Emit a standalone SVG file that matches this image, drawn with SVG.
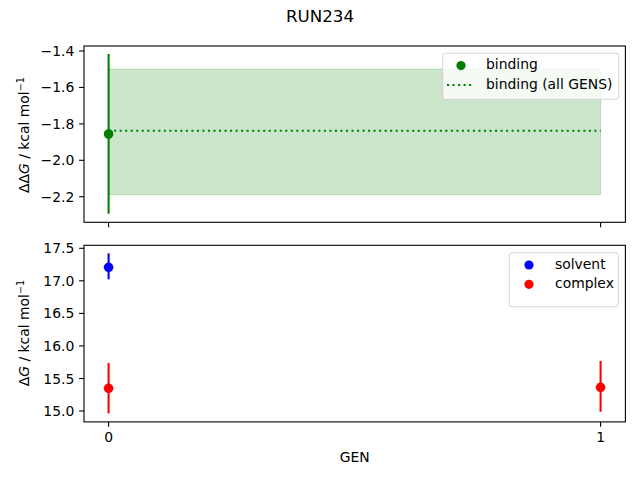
<svg xmlns="http://www.w3.org/2000/svg" width="640" height="480" viewBox="0 0 640 480">
<style>
text{font-family:"DejaVu Sans","Liberation Sans",sans-serif;font-size:13.9px;fill:#000}
.tl{text-anchor:end}
.tc{text-anchor:middle}
.spine{fill:none;stroke:#000;stroke-width:1.1}
.tick{stroke:#000;stroke-width:1.1}
.err{stroke-width:2.08}
.leg{fill:#fff;fill-opacity:0.8;stroke:#ccc;stroke-opacity:0.8;stroke-width:1}
</style>
<rect width="640" height="480" fill="#fff"/>
<text x="320" y="21.7" class="tc" style="font-size:16.7px">RUN234</text>

<g id="top-axes">
<rect x="108.6" y="69" width="492" height="125.7" fill="#008000" fill-opacity="0.2" stroke="#008000" stroke-opacity="0.2" stroke-width="1"/>
<line x1="108.6" y1="130.7" x2="600.6" y2="130.7" stroke="#008000" stroke-width="2.08" stroke-dasharray="2.08 3.44"/>
<line x1="108.6" y1="54" x2="108.6" y2="213.7" stroke="#008000" class="err"/>
<circle cx="108.6" cy="134" r="4.8" fill="#008000"/>
<rect x="84" y="46" width="541.4" height="176.3" class="spine"/>
<g class="tick">
<line x1="79.1" y1="51" x2="84" y2="51"/>
<line x1="79.1" y1="87.4" x2="84" y2="87.4"/>
<line x1="79.1" y1="123.9" x2="84" y2="123.9"/>
<line x1="79.1" y1="160.3" x2="84" y2="160.3"/>
<line x1="79.1" y1="196.7" x2="84" y2="196.7"/>
<line x1="108.6" y1="222.3" x2="108.6" y2="227.2"/>
<line x1="600.6" y1="222.3" x2="600.6" y2="227.2"/>
</g>
<text x="74.3" y="56" class="tl">−1.4</text>
<text x="74.3" y="92.4" class="tl">−1.6</text>
<text x="74.3" y="128.9" class="tl">−1.8</text>
<text x="74.3" y="165.3" class="tl">−2.0</text>
<text x="74.3" y="201.7" class="tl">−2.2</text>
<text transform="translate(28.5,135) rotate(-90)" class="tc">ΔΔ<tspan font-style="italic">G</tspan> / kcal mol<tspan dy="-5" style="font-size:9.7px">−1</tspan></text>
</g>

<g id="top-legend">
<rect x="442.7" y="53.3" width="176" height="46" rx="2.8" class="leg"/>
<circle cx="461" cy="65.6" r="4.6" fill="#008000"/>
<text x="486" y="69.3">binding</text>
<line x1="447" y1="85" x2="474" y2="85" stroke="#008000" stroke-width="2.08" stroke-dasharray="2.08 3.44"/>
<text x="486" y="88.8">binding (all GENS)</text>
</g>

<g id="bottom-axes">
<line x1="108.6" y1="253.3" x2="108.6" y2="279.3" stroke="#0000ff" class="err"/>
<circle cx="108.6" cy="267.3" r="4.8" fill="#0000ff"/>
<line x1="108.6" y1="363" x2="108.6" y2="413.3" stroke="#ff0000" class="err"/>
<circle cx="108.6" cy="388.3" r="4.8" fill="#ff0000"/>
<line x1="600.6" y1="361" x2="600.6" y2="411.7" stroke="#ff0000" class="err"/>
<circle cx="600.6" cy="387.3" r="4.8" fill="#ff0000"/>
<rect x="84" y="245.3" width="541.4" height="176.6" class="spine"/>
<g class="tick">
<line x1="79.1" y1="248.3" x2="84" y2="248.3"/>
<line x1="79.1" y1="280.8" x2="84" y2="280.8"/>
<line x1="79.1" y1="313.4" x2="84" y2="313.4"/>
<line x1="79.1" y1="345.9" x2="84" y2="345.9"/>
<line x1="79.1" y1="378.5" x2="84" y2="378.5"/>
<line x1="79.1" y1="411" x2="84" y2="411"/>
<line x1="108.6" y1="421.9" x2="108.6" y2="426.8"/>
<line x1="600.6" y1="421.9" x2="600.6" y2="426.8"/>
</g>
<text x="74.3" y="253.3" class="tl">17.5</text>
<text x="74.3" y="285.8" class="tl">17.0</text>
<text x="74.3" y="318.4" class="tl">16.5</text>
<text x="74.3" y="350.9" class="tl">16.0</text>
<text x="74.3" y="383.5" class="tl">15.5</text>
<text x="74.3" y="416" class="tl">15.0</text>
<text x="108.6" y="442" class="tc">0</text>
<text x="600.6" y="442" class="tc">1</text>
<text x="354.7" y="462" class="tc">GEN</text>
<text transform="translate(28.5,333) rotate(-90)" class="tc">Δ<tspan font-style="italic">G</tspan> / kcal mol<tspan dy="-5" style="font-size:9.7px">−1</tspan></text>
</g>

<g id="bottom-legend">
<rect x="509.3" y="252.7" width="109" height="54" rx="2.8" class="leg"/>
<circle cx="529" cy="265" r="4.6" fill="#0000ff"/>
<text x="555" y="268.8">solvent</text>
<circle cx="529" cy="284.3" r="4.6" fill="#ff0000"/>
<text x="555" y="288.1">complex</text>
</g>
<g id="connectors"/>
</svg>
